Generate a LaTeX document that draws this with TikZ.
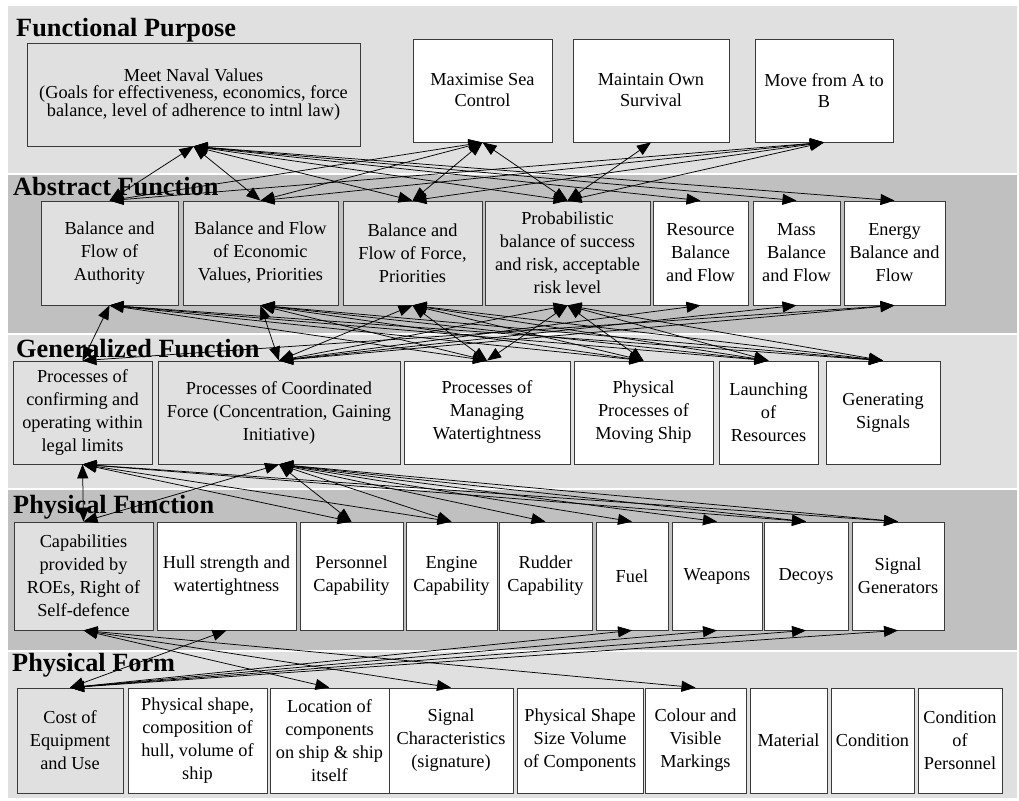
\documentclass[tikz,border=0pt]{standalone}
\usepackage{fontspec}
\setmainfont{Liberation Serif}
\usetikzlibrary{arrows.meta}
\definecolor{bandL}{HTML}{E0E0E0}
\definecolor{bandD}{HTML}{C0C0C0}
\definecolor{boxG}{HTML}{E0E0E0}
\definecolor{edgeC}{HTML}{3A3A3A}
\newcommand\mybox[7]{\node[#6, minimum width={(#4-#2)*1pt}, minimum height={(#5-#3)*1pt}] (#1) at ({(#2+#4)/2},{(#3+#5)/2}) {#7};}
\begin{document}
\begin{tikzpicture}[x=1pt,y=-1pt,
  box/.style={draw=edgeC, line width=0.8pt, align=center, inner sep=0pt, font=\fontsize{18.3}{23}\selectfont},
  gbox/.style={box, fill=boxG},
  wbox/.style={box, fill=white},
  lvltitle/.style={anchor=base west, inner sep=0pt, font=\bfseries\fontsize{26.3}{30}\selectfont},
  link/.style={line width=0.75pt, {Triangle[length=14pt,width=11pt]}-{Triangle[length=14pt,width=11pt]}},
]
\fill[white] (0,0) rectangle (1019,800);
\useasboundingbox (0,0) rectangle (1019,800);
% bands
\fill[bandL] (8,6) rectangle (1017,173);
\fill[bandD] (8,175) rectangle (1017,333);
\fill[bandL] (8,335) rectangle (1017,488);
\fill[bandD] (8,490) rectangle (1017,650);
\fill[bandL] (8,652) rectangle (1017,798);
% titles
\node[lvltitle] (t1) at (16,37) {Functional Purpose};
\node[lvltitle] (t2) at (13,195) {Abstract Function};
\node[lvltitle] (t3) at (16,357) {Generalized Function};
\node[lvltitle] (t4) at (13,513) {Physical Function};
\node[lvltitle] (t5) at (12,671) {Physical Form};
% level 1
\mybox{mnv}{27}{43}{360}{146}{gbox, font=\fontsize{18.3}{17.5}\selectfont}{Meet Naval Values\\(Goals for effectiveness, economics, force\\balance, level of adherence to intnl law)}
\mybox{msc}{413}{39}{552}{142}{wbox, font=\fontsize{18.3}{21}\selectfont}{Maximise Sea\\Control}
\mybox{mos}{573}{39}{729}{142}{wbox, font=\fontsize{18.3}{21}\selectfont}{Maintain Own\\Survival}
\mybox{mab}{755}{39}{893}{142}{wbox, font=\fontsize{18.3}{21}\selectfont}{Move from A to\\B}
% level 2
\mybox{ba}{41}{201}{178}{305}{gbox}{Balance and\\Flow of\\Authority}
\mybox{be}{183}{201}{338}{305}{gbox}{Balance and Flow\\of Economic\\Values, Priorities}
\mybox{bf}{343}{201}{482}{305}{gbox}{Balance and\\Flow of Force,\\Priorities}
\mybox{pr}{485}{201}{650}{305}{gbox}{Probabilistic\\balance of success\\and risk, acceptable\\risk level}
\mybox{rs}{653}{201}{748}{305}{wbox}{Resource\\Balance\\and Flow}
\mybox{ms}{753}{201}{840}{305}{wbox}{Mass\\Balance\\and Flow}
\mybox{en}{844}{201}{945}{305}{wbox}{Energy\\Balance and\\Flow}
% level 3
\mybox{pc}{13}{361}{152}{464}{gbox}{Processes of\\confirming and\\operating within\\legal limits}
\mybox{pcf}{158}{361}{400}{464}{gbox}{Processes of Coordinated\\Force (Concentration, Gaining\\Initiative)}
\mybox{pmw}{404}{361}{570}{464}{wbox}{Processes of\\Managing\\Watertightness}
\mybox{pms}{574}{361}{713}{464}{wbox}{Physical\\Processes of\\Moving Ship}
\mybox{lr}{719}{361}{818}{464}{wbox}{Launching\\of\\Resources}
\mybox{gs}{826}{361}{940}{464}{wbox}{Generating\\Signals}
% level 4
\mybox{cap}{14}{522}{153}{630}{gbox}{Capabilities\\provided by\\ROEs, Right of\\Self-defence}
\mybox{hull}{157}{522}{296}{630}{wbox}{Hull strength and\\watertightness}
\mybox{pers}{300}{522}{403}{630}{wbox}{Personnel\\Capability}
\mybox{eng}{406}{522}{497}{630}{wbox}{Engine\\Capability}
\mybox{rud}{499}{522}{592}{630}{wbox}{Rudder\\Capability}
\mybox{fuel}{596}{522}{668}{630}{wbox}{Fuel}
\mybox{weap}{672}{522}{762}{630}{wbox}{Weapons}
\mybox{dec}{764}{522}{848}{630}{wbox}{Decoys}
\mybox{sg}{852}{522}{944}{630}{wbox}{Signal\\Generators}
% level 5
\mybox{cost}{17}{688}{123}{793}{gbox}{Cost of\\Equipment\\and Use}
\mybox{shape}{128}{688}{267}{793}{wbox}{Physical shape,\\composition of\\hull, volume of\\ship}
\mybox{loc}{270}{688}{389}{793}{wbox}{Location of\\components\\on ship \& ship\\itself}
\mybox{sigc}{389}{688}{513}{793}{wbox}{Signal\\Characteristics\\(signature)}
\mybox{pss}{517}{688}{643}{793}{wbox}{Physical Shape\\Size Volume\\of Components}
\mybox{col}{645}{688}{746}{793}{wbox}{Colour and\\Visible\\Markings}
\mybox{mat}{750}{688}{827}{793}{wbox}{Material}
\mybox{cond}{831}{688}{914}{793}{wbox}{Condition}
\mybox{condp}{918}{688}{1002}{793}{wbox}{Condition\\of\\Personnel}
% connectors
\foreach \a/\b in {mnv/ba, mnv/be, mnv/bf, mnv/pr, mnv/rs, mnv/ms, mnv/en,
  msc/ba, msc/be, msc/bf, msc/pr, mos/pr, mab/ba, mab/be, mab/bf, mab/pr,
  ba/pc, ba/pmw, ba/pms, ba/lr, ba/gs,
  be/pcf, be/pmw, be/pms, be/lr, be/gs,
  bf/pcf, bf/pmw, bf/pms, bf/lr, bf/gs,
  pr/pcf, pr/pmw, pr/pms, pr/lr, pr/gs,
  rs/pcf, ms/pcf, en/pcf, en/pc,
  pc/cap, pc/pers, pc/eng, pc/dec, pc/sg,
  pcf/cap, pcf/pers, pcf/eng, pcf/rud, pcf/fuel, pcf/weap, pcf/dec, pcf/sg,
  cap/loc, cap/sigc, cap/col, hull/cost, fuel/cost, weap/cost, dec/cost, sg/cost}
  \draw[link] (\a.south) -- (\b.north);
\end{tikzpicture}
\end{document}
